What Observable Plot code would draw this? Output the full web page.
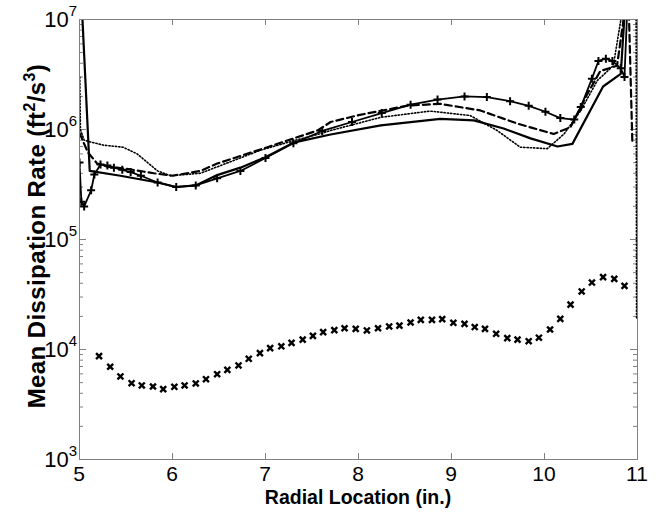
<!DOCTYPE html>
<html><head><meta charset="utf-8">
<script src="https://cdn.jsdelivr.net/npm/d3@7"></script>
<script src="https://cdn.jsdelivr.net/npm/@observablehq/plot@0.6"></script>
<style>body{margin:0;background:#fff} svg{display:block}</style>
</head><body><div id="chart"></div>
<script>
// ---- data ----
const scatterX = [5.21,5.33,5.44,5.56,5.67,5.79,5.90,6.02,6.13,6.25,6.36,6.48,6.59,6.71,6.82,6.94,7.05,7.17,7.28,7.40,7.51,7.62,7.74,7.85,7.97,8.09,8.21,8.33,8.44,8.56,8.67,8.79,8.90,9.02,9.14,9.25,9.36,9.48,9.60,9.71,9.83,9.94,10.06,10.17,10.28,10.40,10.51,10.63,10.75,10.86];
const scatterY = [8700,6970,5690,4940,4710,4610,4360,4580,4710,4910,5370,5960,6530,7160,8230,9260,10300,10700,11500,12300,13300,14400,15000,15600,15400,14900,15600,16200,16500,17600,18600,18600,18900,17500,17100,16000,15400,13900,12700,12300,11900,12800,15200,19000,25600,33700,40600,45500,43900,37900];

const solidX = [5.015,5.11,5.44,5.84,6.04,6.25,6.48,6.73,7.0,7.3,7.7,8.24,8.88,9.24,9.56,9.85,10.14,10.30,10.63,10.82,10.88];
const solidY = [2e7,4.2e5,3.8e5,3.3e5,3.0e5,3.1e5,3.85e5,4.5e5,5.6e5,7.6e5,9.0e5,1.09e6,1.25e6,1.21e6,1.02e6,8.3e5,7.0e5,7.4e5,2.46e6,3.2e6,2e7];

const dashedX = [5.0,5.09,5.19,5.3,5.5,5.8,6.0,6.3,6.48,7.02,7.56,7.7,8.0,8.53,8.88,9.31,9.71,10.10,10.28,10.46,10.60,10.78,10.90,10.945];
const dashedY = [9.3e5,6.2e5,4.9e5,4.6e5,4.4e5,4.0e5,3.8e5,4.2e5,4.9e5,6.9e5,9.8e5,1.17e6,1.35e6,1.65e6,1.71e6,1.49e6,1.13e6,9.1e5,1.05e6,2.1e6,3.4e6,3.8e6,2e7,7.4e5];

const dottedX = [5.003,5.01,5.05,5.12,5.26,5.47,5.62,5.84,5.98,6.3,6.95,7.3,7.6,7.7,8.24,8.77,9.2,9.49,9.74,10.03,10.21,10.39,10.57,10.74,10.88,10.985,10.99];
const dottedY = [3.0e6,1.0e6,8.0e5,7.7e5,7.2e5,6.9e5,6.0e5,4.2e5,3.8e5,4.0e5,6.5e5,7.9e5,9.2e5,9.8e5,1.29e6,1.47e6,1.34e6,9.8e5,6.9e5,6.7e5,9.1e5,1.49e6,2.8e6,3.8e6,2e7,2e7,1.9e4];

const plusX = [5.0,5.02,5.05,5.125,5.16,5.226,5.30,5.37,5.46,5.55,5.66,5.84,6.04,6.25,6.48,6.73,7.0,7.30,7.61,7.93,8.25,8.56,8.85,9.14,9.38,9.63,9.83,10.01,10.17,10.32,10.39,10.51,10.58,10.66,10.73,10.82,10.86,10.9];
const plusY = [5.0e5,2.2e5,2.0e5,2.8e5,3.9e5,4.8e5,4.7e5,4.5e5,4.3e5,4.1e5,3.8e5,3.3e5,3.0e5,3.1e5,3.6e5,4.2e5,5.5e5,7.5e5,9.7e5,1.17e6,1.41e6,1.68e6,1.87e6,2.0e6,1.97e6,1.81e6,1.64e6,1.45e6,1.27e6,1.23e6,1.6e6,2.9e6,4.2e6,4.4e6,4.2e6,3.6e6,3.0e6,2e7];

const xTickValues = [5,6,7,8,9,10,11];
const yTickExponents = [3,4,5,6,7];
const xLabelText = "Radial Location (in.)";
const yLabelParts = [["Mean Dissipation Rate (ft",""],["2","sup"],["/s",""],["3","sup"],[")",""]];

// ---- build ----
const rows = (xs, ys) => xs.map((x, i) => ({x, y: ys[i]}));
const scatter = rows(scatterX, scatterY);
const solid = rows(solidX, solidY);
const dashed = rows(dashedX, dashedY);
const dotted = rows(dottedX, dottedY);
const plus = rows(plusX, plusY);

const yMajor = yTickExponents.map(e => 10 ** e);
const yMinor = [];
for (let e = 3; e < 7; e++) for (let m = 2; m < 10; m++) yMinor.push(m * 10 ** e);
const xInner = xTickValues.slice(1, -1);

const W = 660, H = 512, mL = 79, mR = 23, mT = 19, mB = 53;
const pw = W - mL - mR, ph = H - mT - mB;
const axisColor = "#808080";
const font = "'Liberation Sans', Arial, sans-serif";

const chart = Plot.plot({
  width: W, height: H,
  marginLeft: mL, marginRight: mR, marginTop: mT, marginBottom: mB,
  x: {domain: [5, 11], axis: null},
  y: {type: "log", domain: [1e3, 1e7], axis: null},
  style: {fontFamily: font, background: "#fff", overflow: "visible"},
  marks: [
    Plot.tickX(xInner, {x: d => d, insetTop: ph - 6, stroke: axisColor}),
    Plot.tickX(xInner, {x: d => d, insetBottom: ph - 6, stroke: axisColor}),
    Plot.tickY(yMajor, {y: d => d, insetRight: pw - 7, stroke: axisColor}),
    Plot.tickY(yMajor, {y: d => d, insetLeft: pw - 7, stroke: axisColor}),
    Plot.tickY(yMinor, {y: d => d, insetRight: pw - 4, stroke: axisColor}),
    Plot.tickY(yMinor, {y: d => d, insetLeft: pw - 4, stroke: axisColor}),
    Plot.line(dotted, {x: "x", y: "y", stroke: "black", strokeWidth: 1.6, strokeDasharray: "1.3,2", clip: true}),
    Plot.line(dashed, {x: "x", y: "y", stroke: "black", strokeWidth: 2.2, strokeDasharray: "7,4", clip: true}),
    Plot.line(solid, {x: "x", y: "y", stroke: "black", strokeWidth: 2.2, clip: true}),
    Plot.line(plus, {x: "x", y: "y", stroke: "black", strokeWidth: 1.8, clip: true}),
    Plot.dot(plus, {x: "x", y: "y", symbol: "plus", r: 2.7, stroke: "black", strokeWidth: 2, clip: true}),
    Plot.dot(scatter, {x: "x", y: "y", symbol: "times", r: 2.8, stroke: "black", strokeWidth: 2.4}),
    Plot.frame({stroke: axisColor})
  ]
});
document.getElementById("chart").appendChild(chart);

// ---- tick labels and axis titles placed with the plot's own scales ----
const sx = chart.scale("x"), sy = chart.scale("y");
const svg = d3.select(chart);
const g = svg.append("g").attr("font-family", font).attr("fill", "black");

xTickValues.forEach(v => {
  g.append("text").attr("x", sx.apply(v)).attr("y", H - mB + 22)
    .attr("text-anchor", "middle").attr("font-size", 21).text(String(v));
});
yTickExponents.forEach(e => {
  const t = g.append("text").attr("x", mL - 2).attr("y", sy.apply(10 ** e) + 8)
    .attr("text-anchor", "end").attr("font-size", 22);
  t.append("tspan").text("10");
  t.append("tspan").attr("font-size", 15).attr("dy", -11).text(String(e));
});
g.append("text").attr("x", mL + pw / 2).attr("y", H - 8)
  .attr("text-anchor", "middle").attr("font-size", 19.5).attr("font-weight", "bold")
  .text(xLabelText);
const yl = g.append("text")
  .attr("transform", `translate(45,${mT + ph / 2 - 3}) rotate(-90)`)
  .attr("text-anchor", "middle").attr("font-size", 24).attr("font-weight", "bold")
  .attr("letter-spacing", 0.4);
let shifted = false;
yLabelParts.forEach(([s, kind]) => {
  const ts = yl.append("tspan").text(s);
  if (kind === "sup") { ts.attr("font-size", 16).attr("dy", -10); shifted = true; }
  else if (shifted) { ts.attr("dy", 10); shifted = false; }
});
</script>
</body></html>
